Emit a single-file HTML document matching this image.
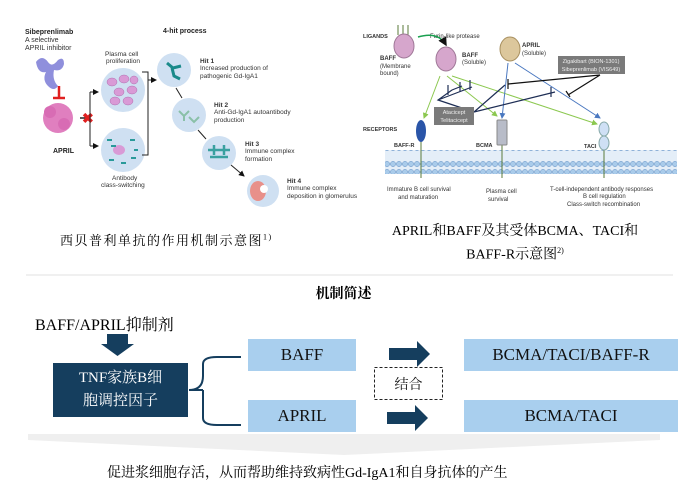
<!DOCTYPE html>
<html><head><meta charset="utf-8">
<style>
*{margin:0;padding:0;box-sizing:border-box}
body{width:687px;height:485px;background:#fff;position:relative;overflow:hidden;font-family:"Liberation Serif","Noto Serif CJK SC",serif}
.a{position:absolute}
.box{position:absolute;display:flex;align-items:center;justify-content:center;font-size:17px;color:#111}
.lb{background:#a9cfee}
</style></head><body>
<svg class="a" style="left:0;top:0" width="687" height="485" font-family="Liberation Sans, sans-serif">
<defs><marker id="ah" markerWidth="6" markerHeight="6" refX="5" refY="3" orient="auto"><path d="M0,0L6,3L0,6z" fill="#111"/></marker>
<marker id="ag" markerWidth="6" markerHeight="6" refX="5" refY="3" orient="auto"><path d="M0,0L6,3L0,6z" fill="#8cc850"/></marker>
<marker id="ab" markerWidth="6" markerHeight="6" refX="5" refY="3" orient="auto"><path d="M0,0L6,3L0,6z" fill="#4a78c0"/></marker>
<pattern id="lp" width="6" height="24" patternUnits="userSpaceOnUse"><circle cx="3" cy="4" r="2.6" fill="#a9cbea" stroke="#5a8ac0" stroke-width=".5"/><circle cx="3" cy="20" r="2.6" fill="#a9cbea" stroke="#5a8ac0" stroke-width=".5"/></pattern></defs>
<!-- LEFT PANEL -->
<text x="25" y="34" font-size="7" font-weight="bold" fill="#222">Sibeprenlimab</text>
<text x="25" y="42" font-size="7" fill="#333">A selective</text>
<text x="25" y="50" font-size="7" fill="#333">APRIL inhibitor</text>
<path d="M36,62 q6,-8 12,0 q4,6 10,-2 q6,-4 6,4 q-2,8 -10,6 q-2,10 4,16 q-4,6 -10,0 q-6,-6 -2,-14 q-8,2 -10,-10z" fill="#8f8fdc"/>
<line x1="59" y1="86" x2="59" y2="97" stroke="#e02020" stroke-width="2.5"/><line x1="53" y1="98" x2="65" y2="98" stroke="#e02020" stroke-width="2.5"/>
<ellipse cx="58" cy="118" rx="15" ry="15" fill="#e07fbf"/><circle cx="50" cy="112" r="6" fill="#d86cb4"/><circle cx="64" cy="124" r="6" fill="#d86cb4"/>
<text x="53" y="153" font-size="7" font-weight="bold" fill="#222">APRIL</text>
<line x1="80" y1="118" x2="90" y2="118" stroke="#222" stroke-width="1.5"/>
<text x="82" y="123" font-size="14" font-weight="bold" fill="#e02020">✖</text>
<path d="M90,92 L90,146" fill="none" stroke="#222" stroke-width="1"/>
<line x1="90" y1="92" x2="98" y2="92" stroke="#222" marker-end="url(#ah)"/>
<line x1="90" y1="146" x2="98" y2="146" stroke="#222" marker-end="url(#ah)"/>
<text x="105" y="56" font-size="6.5" fill="#333">Plasma cell</text><text x="106" y="63" font-size="6.5" fill="#333">proliferation</text>
<circle cx="123" cy="90" r="22" fill="#cfe0f2"/>
<g fill="#d99ad6" stroke="#b070b0" stroke-width=".5"><ellipse cx="112" cy="82" rx="5" ry="4"/><ellipse cx="124" cy="79" rx="5" ry="4"/><ellipse cx="119" cy="92" rx="5" ry="4"/><ellipse cx="132" cy="90" rx="5" ry="4"/><ellipse cx="115" cy="101" rx="5" ry="4"/><ellipse cx="128" cy="101" rx="5" ry="4"/><ellipse cx="134" cy="80" rx="4" ry="4"/></g>
<circle cx="123" cy="150" r="22" fill="#cfe0f2"/><ellipse cx="119" cy="150" rx="6" ry="5" fill="#d99ad6"/>
<g stroke="#2a9a9a" stroke-width="2"><path d="M107,140h5M111,146h5M130,140h5M131,158h5M109,160h5M121,163h5M134,150h4"/></g>
<text x="112" y="180" font-size="6.5" fill="#333">Antibody</text><text x="101" y="187" font-size="6.5" fill="#333">class-switching</text>
<path d="M142,72h6v83h-6" fill="none" stroke="#222"/><line x1="148" y1="80" x2="156" y2="80" stroke="#222" marker-end="url(#ah)"/>
<text x="163" y="33" font-size="7" font-weight="bold" fill="#222">4-hit process</text>
<circle cx="174" cy="70" r="17" fill="#cfe0f2"/><path d="M167,63l6,5l8,-2M172,68l2,8l6,3" stroke="#1a8a8a" stroke-width="3" fill="none"/>
<line x1="176" y1="88" x2="182" y2="98" stroke="#222"/>
<circle cx="189" cy="115" r="17" fill="#cfe0f2"/><path d="M179,111l5,5l5,-5M184,116v5M189,117l5,5l5,-5" stroke="#8ac0a8" stroke-width="2" fill="none"/>
<line x1="198" y1="130" x2="206" y2="139" stroke="#222"/>
<circle cx="219" cy="153" r="17" fill="#cfe0f2"/><path d="M208,150h22M214,145v10M224,145v10M210,157h18" stroke="#3aa0a0" stroke-width="2.5" fill="none"/>
<line x1="231" y1="165" x2="244" y2="176" stroke="#222" marker-end="url(#ah)"/>
<circle cx="263" cy="191" r="16" fill="#cfe0f2"/><ellipse cx="258" cy="191" rx="8" ry="10" fill="#e8908a"/><circle cx="264" cy="189" r="4" fill="#fff"/>
<g font-size="6.5" fill="#333"><text x="200" y="63" font-weight="bold">Hit 1</text><text x="200" y="70">Increased production of</text><text x="200" y="78">pathogenic Gd-IgA1</text>
<text x="214" y="107" font-weight="bold">Hit 2</text><text x="214" y="114">Anti-Gd-IgA1 autoantibody</text><text x="214" y="122">production</text>
<text x="245" y="146" font-weight="bold">Hit 3</text><text x="245" y="153">Immune complex</text><text x="245" y="161">formation</text>
<text x="287" y="183" font-weight="bold">Hit 4</text><text x="287" y="190">Immune complex</text><text x="287" y="198">deposition in glomerulus</text></g>
<!-- RIGHT PANEL -->
<g font-size="6" fill="#333"><text x="363" y="38" font-weight="bold" font-size="5.5">LIGANDS</text>
<text x="380" y="60" font-weight="bold">BAFF</text><text x="380" y="68">(Membrane</text><text x="380" y="75">bound)</text>
<text x="430" y="38">Furin-like protease</text>
<text x="462" y="57" font-weight="bold">BAFF</text><text x="462" y="64">(Soluble)</text>
<text x="522" y="47" font-weight="bold">APRIL</text><text x="522" y="55">(Soluble)</text>
<text x="363" y="131" font-weight="bold" font-size="5.5">RECEPTORS</text>
<text x="394" y="147" font-weight="bold" font-size="5.5">BAFF-R</text><text x="476" y="147" font-weight="bold" font-size="5.5">BCMA</text><text x="584" y="148" font-weight="bold" font-size="5.5">TACI</text>
<text x="387" y="191">Immature B cell survival</text><text x="398" y="199">and maturation</text>
<text x="486" y="193">Plasma cell</text><text x="488" y="201">survival</text>
<text x="550" y="191">T-cell-independent antibody responses</text><text x="583" y="198">B cell regulation</text><text x="567" y="206">Class-switch recombination</text></g>
<path d="M398,25v10M403,25v10M408,25v10" stroke="#5a7a3a"/>
<ellipse cx="404" cy="46" rx="10" ry="12" fill="#d6a6cc" stroke="#a07898"/>
<path d="M418,37 q20,-6 28,8" stroke="#1aa050" stroke-width="1.5" fill="none" marker-end="url(#ah)"/>
<ellipse cx="446" cy="59" rx="10" ry="12" fill="#d6a6cc" stroke="#a07898"/>
<ellipse cx="510" cy="49" rx="10" ry="12" fill="#dcc79c" stroke="#a89060"/>
<g stroke="#8cc850" stroke-width="1"><line x1="440" y1="76" x2="424" y2="118" marker-end="url(#ag)"/><line x1="447" y1="76" x2="497" y2="116" marker-end="url(#ag)"/><line x1="452" y1="76" x2="597" y2="124" marker-end="url(#ag)"/></g>
<g stroke="#4a78c0" stroke-width="1"><line x1="508" y1="63" x2="502" y2="118" marker-end="url(#ab)"/><line x1="515" y1="63" x2="600" y2="118" marker-end="url(#ab)"/></g>
<g stroke="#1e2e55" stroke-width="1.2" fill="none"><path d="M474,112 L438,100 L452,90 M438,100 L472,87 M452,90 L462,86 M474,112 L505,85 M474,112 L555,92"/><path d="M448,85v10M460,82v10M470,80v10M551,87v10"/></g>
<path d="M600,75 L508,84 M600,75 L568,95" stroke="#111" stroke-width="1.2" fill="none"/><path d="M508,79v10M566,91l4,6" stroke="#111" stroke-width="1.2"/>
<rect x="558" y="56" width="67" height="18" fill="#7a7a7a"/><text x="591" y="63" font-size="5.5" fill="#eee" text-anchor="middle">Zigakibart (BION-1301)</text><text x="591" y="71" font-size="5.5" fill="#eee" text-anchor="middle">Sibeprenlimab (VIS649)</text>
<rect x="434" y="107" width="40" height="18" fill="#7a7a7a"/><text x="454" y="114" font-size="5.5" fill="#eee" text-anchor="middle">Atacicept</text><text x="454" y="122" font-size="5.5" fill="#eee" text-anchor="middle">Telitacicept</text>
<rect x="385" y="150" width="292" height="24" fill="#e4eef8"/>
<rect x="385" y="150" width="292" height="24" fill="url(#lp)"/>
<g stroke="#5a7a3a" stroke-width="1"><line x1="421" y1="140" x2="421" y2="178"/><line x1="502" y1="142" x2="502" y2="178"/><line x1="604" y1="150" x2="604" y2="178"/></g>
<ellipse cx="421" cy="131" rx="5" ry="11" fill="#2a55a8"/>
<rect x="497" y="120" width="10" height="25" rx="1" fill="#b8bcc8" stroke="#888"/>
<ellipse cx="604" cy="129" rx="5" ry="7" fill="#cfe0f5" stroke="#8aa"/><ellipse cx="604" cy="143" rx="5" ry="7" fill="#cfe0f5" stroke="#8aa"/>
<!-- bottom -->
<line x1="26" y1="275" x2="673" y2="275" stroke="#e0e0e0"/>
<path d="M28,434 L660,434 L660,440 L344,455 L28,440z" fill="#efefef"/>
<path d="M107,334h21v10h6l-16.5,12l-16.5,-12h6z" fill="#153e5e"/>
<path d="M189,390 q14,0 14,-14 v-12 q0,-7 14,-7 h24 M203,390 v28 q0,7 14,7 h24 M189,390 h14" stroke="#153e5e" stroke-width="2" fill="none"/>
<path d="M389,348h28v-7l13,13l-13,13v-7h-28z" fill="#153e5e"/>
<path d="M387,412h28v-7l13,13l-13,13v-7h-28z" fill="#153e5e"/>
<rect x="374.5" y="367.5" width="68" height="32" fill="none" stroke="#222" stroke-dasharray="3,2"/>
</svg>
<div class="a" style="left:60px;top:230px;font-size:13px;letter-spacing:1.5px">西贝普利单抗的作用机制示意图<sup style="font-size:8px">1)</sup></div>
<div class="a" style="left:343px;top:222px;width:344px;text-align:center;font-size:14px;line-height:19px">APRIL和BAFF及其受体BCMA、TACI和<br>BAFF-R示意图<sup style="font-size:8px">2)</sup></div>
<div class="a" style="left:0;top:283px;width:687px;text-align:center;font-size:14px;font-weight:bold">机制简述</div>
<div class="a" style="left:35px;top:312px;font-size:16px">BAFF/APRIL抑制剂</div>
<div class="box" style="left:53px;top:363px;width:135px;height:54px;background:#153e5e;color:#fff;font-size:15px;line-height:23px;text-align:center;flex-direction:column"><div>TNF家族B细</div><div>胞调控因子</div></div>
<div class="box lb" style="left:248px;top:339px;width:108px;height:32px">BAFF</div>
<div class="box lb" style="left:248px;top:400px;width:108px;height:32px">APRIL</div>
<div class="box lb" style="left:464px;top:339px;width:214px;height:32px">BCMA/TACI/BAFF-R</div>
<div class="box lb" style="left:464px;top:400px;width:214px;height:32px">BCMA/TACI</div>
<div class="box" style="left:375px;top:368px;width:67px;height:31px;font-size:14px">结合</div>
<div class="a" style="left:107px;top:462px;font-size:14px;white-space:nowrap">促进浆细胞存活，从而帮助维持致病性Gd-IgA1和自身抗体的产生</div>
</body></html>
